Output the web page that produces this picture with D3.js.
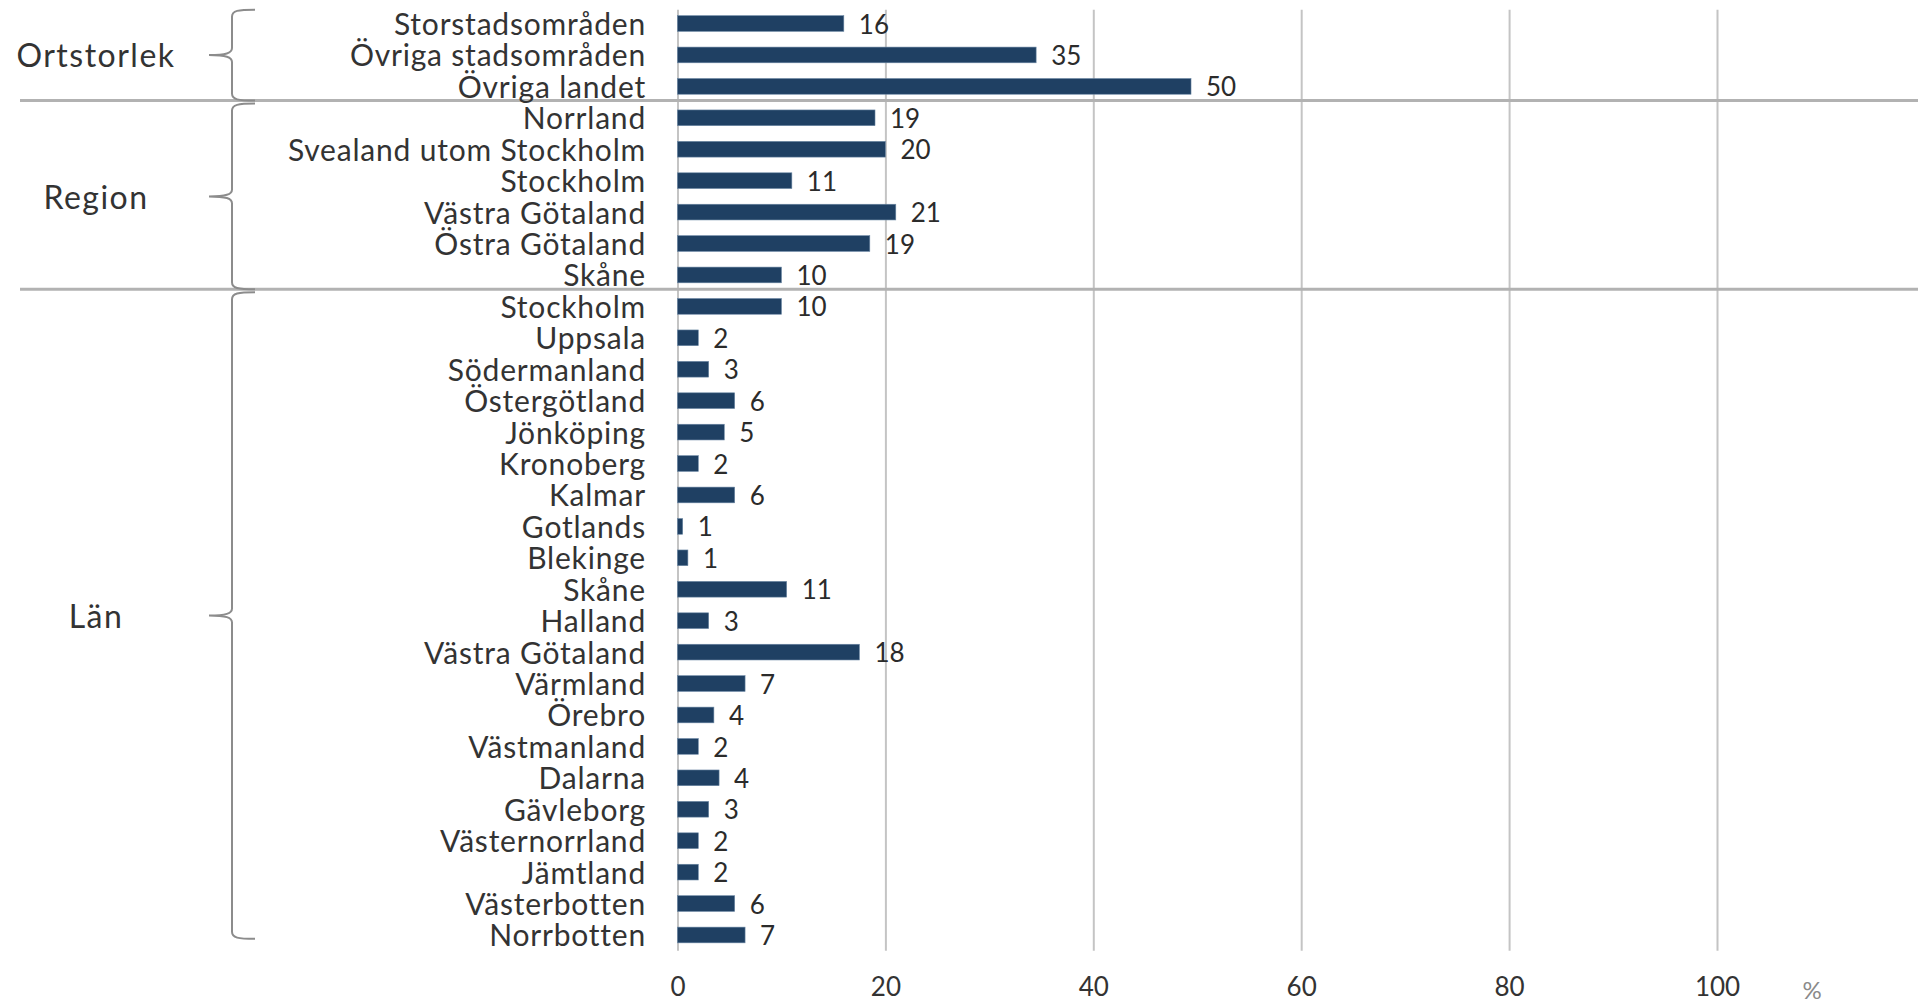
<!DOCTYPE html>
<html>
<head>
<meta charset="utf-8">
<script src="https://cdn.jsdelivr.net/npm/d3@7"></script>
<style>
    body { margin: 0; background: #fff; }
    svg text { font-family: Lato, "Open Sans", sans-serif; }
</style>
</head>
<body>
<div id="chart"></div>
<script>

// ---- data ----
let groupNames = ["Ortstorlek", "Region", "Län"];

let ortCategories = ["Storstadsområden", "Övriga stadsområden", "Övriga landet"];
let ortValues = [16.0, 34.5, 49.4];
let ortLabels = [16, 35, 50];

let regionCategories = ["Norrland", "Svealand utom Stockholm", "Stockholm", "Västra Götaland", "Östra Götaland", "Skåne"];
let regionValues = [19.0, 20.0, 11.0, 21.0, 18.5, 10.0];
let regionLabels = [19, 20, 11, 21, 19, 10];

let lanCategories = ["Stockholm", "Uppsala", "Södermanland", "Östergötland", "Jönköping", "Kronoberg", "Kalmar",
    "Gotlands", "Blekinge", "Skåne", "Halland", "Västra Götaland", "Värmland", "Örebro", "Västmanland",
    "Dalarna", "Gävleborg", "Västernorrland", "Jämtland", "Västerbotten", "Norrbotten"];
let lanValues = [10.0, 2.0, 3.0, 5.5, 4.5, 2.0, 5.5, 0.5, 1.0, 10.5, 3.0, 17.5, 6.5, 3.5, 2.0, 4.0, 3.0, 2.0, 2.0, 5.5, 6.5];
let lanLabels = [10, 2, 3, 6, 5, 2, 6, 1, 1, 11, 3, 18, 7, 4, 2, 4, 3, 2, 2, 6, 7];

let xTicks = [0, 20, 40, 60, 80, 100];

// ---- layout ----
let width = 1918, height = 1003;
let plotLeft = 677.5, plotRight = 1717, plotTop = 7.8, plotBottom = 950.7;

let svg = d3.select("#chart").append("svg")
    .attr("width", width)
    .attr("height", height);

// build rows
let groups = [
    {name: groupNames[0], cats: ortCategories, vals: ortValues, labs: ortLabels},
    {name: groupNames[1], cats: regionCategories, vals: regionValues, labs: regionLabels},
    {name: groupNames[2], cats: lanCategories, vals: lanValues, labs: lanLabels}
];
let rows = [];
groups.forEach((g, gi) => {
    g.start = rows.length;
    g.cats.forEach((c, i) => rows.push({cat: c, value: g.vals[i], label: g.labs[i], group: gi}));
    g.end = rows.length - 1;
});

let x = d3.scaleLinear().domain([0, 100]).range([plotLeft, plotRight]);
let y = d3.scaleBand()
    .domain(d3.range(rows.length))
    .range([plotTop, plotBottom])
    .paddingInner(0.5)
    .paddingOuter(0.25);

// gridlines + tick labels
let xAxis = d3.axisBottom(x)
    .tickValues(xTicks)
    .tickSize(-(plotBottom - plotTop - 2))
    .tickFormat(d3.format("d"));

let axisG = svg.append("g")
    .attr("transform", `translate(0, ${plotBottom})`)
    .call(xAxis);
axisG.select(".domain").remove();
axisG.selectAll(".tick line")
    .attr("stroke", "#c4c4c4")
    .attr("stroke-width", 2);
axisG.selectAll(".tick text")
    .attr("y", 36)
    .attr("dy", "0.35em")
    .attr("fill", "#333")
    .style("font-size", "26px");

svg.append("text")
    .text("%")
    .attr("x", 1812)
    .attr("y", plotBottom + 40)
    .attr("dy", "0.35em")
    .attr("text-anchor", "middle")
    .attr("fill", "#8a8a8a")
    .style("font-size", "24px");

// separators between groups
let step = y.step();
let separators = groups.slice(1).map(g => y(g.start) - step * 0.25 - 1.5);
svg.selectAll(".sep")
    .data(separators)
    .enter().append("line")
    .attr("class", "sep")
    .attr("x1", 20)
    .attr("x2", width)
    .attr("y1", d => d)
    .attr("y2", d => d)
    .attr("stroke", "#b2b2b2")
    .attr("stroke-width", 3);

// bars
svg.selectAll(".bar")
    .data(rows)
    .enter().append("rect")
    .attr("class", "bar")
    .attr("x", x(0))
    .attr("y", (d, i) => y(i))
    .attr("width", d => x(d.value) - x(0))
    .attr("height", y.bandwidth())
    .attr("fill", "#1f4063")
    .attr("stroke", "#6a86a3")
    .attr("stroke-width", 0.6);

// value labels
svg.selectAll(".val")
    .data(rows)
    .enter().append("text")
    .attr("class", "val")
    .text(d => d.label)
    .attr("x", d => x(d.value) + 15)
    .attr("y", (d, i) => y(i) + y.bandwidth() / 2 + 1)
    .attr("dy", "0.35em")
    .attr("fill", "#2b2b2b")
    .style("font-size", "26px");

// category labels
svg.selectAll(".cat")
    .data(rows)
    .enter().append("text")
    .attr("class", "cat")
    .text(d => d.cat)
    .attr("x", 646)
    .attr("y", (d, i) => y(i) + y.bandwidth() / 2 + 1)
    .attr("dy", "0.35em")
    .attr("text-anchor", "end")
    .attr("fill", "#333")
    .style("font-size", "30px")
    .style("letter-spacing", "0.8px");

// braces + group labels
let xv = 232, xe = 255, xt = 209;
groups.forEach((g, gi) => {
    let top = gi === 0 ? y(g.start) - 6 : separators[gi - 1] + 3;
    let bottom = gi === groups.length - 1 ? y(g.end) + y.bandwidth() - 4 : separators[gi];
    let mid = (top + bottom) / 2;

    let p = d3.path();
    p.moveTo(xe, top);
    p.bezierCurveTo(xv + 6, top, xv, top + 1, xv, top + 7);
    p.lineTo(xv, mid - 7);
    p.bezierCurveTo(xv, mid - 2, xv - 6, mid, xt, mid);
    p.bezierCurveTo(xv - 6, mid, xv, mid + 2, xv, mid + 7);
    p.lineTo(xv, bottom - 7);
    p.bezierCurveTo(xv, bottom - 1, xv + 6, bottom, xe, bottom);

    svg.append("path")
        .attr("d", p.toString())
        .attr("fill", "none")
        .attr("stroke", "#8c8c8c")
        .attr("stroke-width", 2);

    svg.append("text")
        .text(g.name)
        .attr("x", 96)
        .attr("y", mid + 1)
        .attr("dy", "0.35em")
        .attr("text-anchor", "middle")
        .attr("fill", "#333")
        .style("font-size", "32px")
        .style("letter-spacing", "1.5px");
});

</script>
</body>
</html>
